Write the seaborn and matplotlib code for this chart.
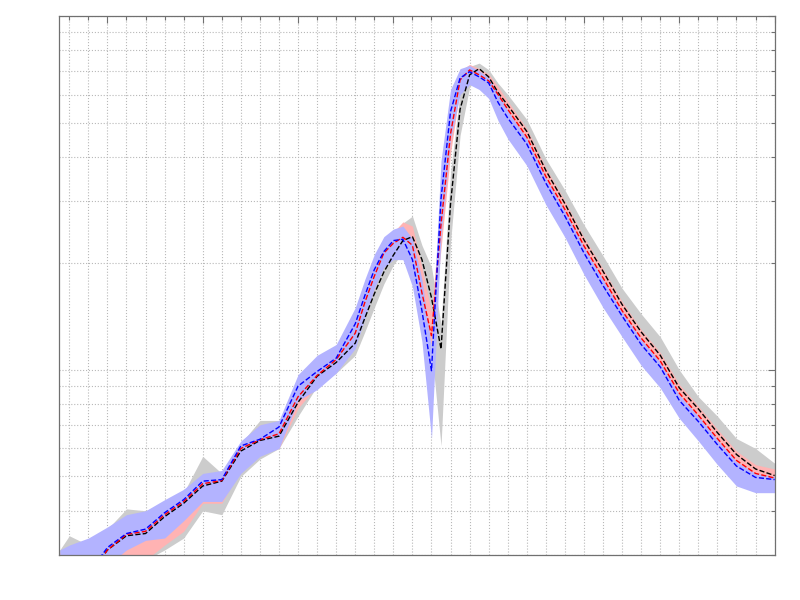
import numpy as np
import pandas as pd
import matplotlib
matplotlib.use("Agg")
import matplotlib.pyplot as plt
from matplotlib.ticker import MultipleLocator, LogLocator, NullFormatter
import seaborn as sns

# sample positions
x = [2.5, 3, 4, 5, 6, 7, 8, 9, 10, 11, 12, 13, 14, 15, 16, 17, 18,
     18.5, 19, 19.5, 20, 20.5, 21, 21.5, 22, 22.5, 23, 23.5, 24, 24.5, 25, 25.5, 26,
     27, 28, 29, 30, 31, 32, 33, 34, 35, 36, 37, 38, 39, 40]

# black series (gray band)
black_mid = [0.20, 0.22, 0.26, 0.31, 0.34, 0.345, 0.385, 0.42, 0.47, 0.485, 0.59, 0.632, 0.65, 0.81, 0.96, 1.05, 1.19,
             1.40, 1.64, 1.89, 2.11, 2.32, 2.38, 2.05, 1.60, 1.146, 2.95, 5.45, 6.82, 7.10, 6.73, 6.07, 5.60,
             4.72, 3.66, 2.95, 2.33, 1.90, 1.53, 1.28, 1.10, 0.89, 0.776, 0.665, 0.577, 0.525, 0.503]
black_lo = [0.15, 0.16, 0.19, 0.25, 0.28, 0.29, 0.31, 0.335, 0.40, 0.39, 0.50, 0.56, 0.60, 0.74, 0.90, 0.98, 1.10,
            1.28, 1.50, 1.75, 1.98, 2.15, 2.20, 1.70, 1.15, 0.61, 2.30, 4.60, 6.30, 6.80, 6.45, 5.80, 5.35,
            4.50, 3.50, 2.82, 2.22, 1.80, 1.46, 1.22, 1.05, 0.85, 0.74, 0.635, 0.55, 0.50, 0.48]
black_hi = [0.31, 0.34, 0.32, 0.355, 0.405, 0.40, 0.42, 0.45, 0.57, 0.51, 0.62, 0.72, 0.72, 0.86, 1.02, 1.10, 1.30,
            1.52, 1.78, 2.04, 2.30, 2.60, 2.72, 2.25, 1.95, 1.35, 3.60, 6.10, 7.20, 7.36, 7.05, 6.45, 6.00,
            5.10, 3.95, 3.22, 2.57, 2.10, 1.70, 1.44, 1.24, 1.00, 0.84, 0.74, 0.64, 0.60, 0.545]

# red series (pink band)
red_mid = [0.20, 0.22, 0.26, 0.31, 0.343, 0.35, 0.39, 0.425, 0.477, 0.487, 0.60, 0.635, 0.66, 0.84, 0.965, 1.07, 1.27,
           1.55, 1.84, 2.14, 2.28, 2.37, 2.25, 1.65, 1.25, 2.58, 4.65, 6.60, 7.04, 6.82, 6.56, 5.99, 5.45,
           4.55, 3.52, 2.84, 2.24, 1.82, 1.47, 1.23, 1.06, 0.86, 0.745, 0.64, 0.555, 0.51, 0.495]
red_lo = [0.15, 0.16, 0.19, 0.24, 0.27, 0.29, 0.32, 0.35, 0.42, 0.42, 0.525, 0.58, 0.60, 0.78, 0.90, 1.00, 1.18,
          1.42, 1.70, 2.00, 2.15, 2.25, 2.05, 1.45, 1.18, 2.20, 4.10, 6.20, 6.75, 6.55, 6.30, 5.75, 5.20,
          4.35, 3.35, 2.70, 2.13, 1.73, 1.40, 1.17, 1.01, 0.82, 0.71, 0.61, 0.53, 0.485, 0.47]
red_hi = [0.305, 0.31, 0.31, 0.34, 0.37, 0.39, 0.42, 0.45, 0.50, 0.51, 0.62, 0.70, 0.71, 0.90, 1.02, 1.14, 1.38,
          1.66, 1.98, 2.30, 2.45, 2.62, 2.55, 1.95, 1.45, 3.00, 5.20, 7.00, 7.30, 7.10, 6.85, 6.30, 5.75,
          4.80, 3.72, 3.00, 2.37, 1.93, 1.56, 1.30, 1.12, 0.91, 0.79, 0.68, 0.59, 0.54, 0.525]

# blue series (blue band)
blue_mid = [0.20, 0.22, 0.265, 0.315, 0.345, 0.355, 0.395, 0.43, 0.485, 0.49, 0.61, 0.637, 0.69, 0.90, 0.99, 1.08, 1.35,
            1.62, 1.92, 2.16, 2.32, 2.34, 2.05, 1.47, 0.995, 3.05, 5.37, 6.68, 6.96, 6.73, 6.47, 5.69, 5.15,
            4.35, 3.37, 2.72, 2.14, 1.73, 1.42, 1.18, 1.02, 0.82, 0.715, 0.615, 0.535, 0.497, 0.49]
blue_lo = [0.15, 0.16, 0.19, 0.28, 0.31, 0.33, 0.335, 0.375, 0.425, 0.425, 0.51, 0.57, 0.60, 0.82, 0.88, 0.98, 1.15,
           1.40, 1.70, 1.95, 2.05, 2.05, 1.72, 1.20, 0.64, 2.40, 4.50, 6.00, 6.40, 6.20, 5.85, 5.05, 4.50,
           3.78, 2.93, 2.37, 1.86, 1.50, 1.24, 1.03, 0.89, 0.73, 0.63, 0.54, 0.47, 0.45, 0.45]
blue_hi = [0.31, 0.32, 0.335, 0.36, 0.39, 0.40, 0.43, 0.46, 0.51, 0.52, 0.63, 0.70, 0.72, 0.97, 1.10, 1.18, 1.50,
           1.80, 2.12, 2.38, 2.50, 2.55, 2.35, 1.80, 1.15, 3.90, 6.20, 7.10, 7.25, 7.00, 6.70, 6.05, 5.40,
           4.50, 3.48, 2.81, 2.22, 1.80, 1.46, 1.22, 1.05, 0.85, 0.74, 0.635, 0.55, 0.51, 0.50]

sns.set_style("white")
fig = plt.figure(figsize=(8, 6), dpi=100)
ax = fig.add_axes([0.07375, 0.075, 0.895, 0.8983])

bands = [
    (black_lo, black_hi, (0.8, 0.8, 0.8)),
    (red_lo, red_hi, (1.0, 0.7, 0.7)),
    (blue_lo, blue_hi, (0.7, 0.7, 1.0)),
]
for lo, hi, c in bands:
    ax.fill_between(x, lo, hi, color=c, linewidth=0, zorder=2)

df = pd.DataFrame({"x": x, "black": black_mid, "red": red_mid, "blue": blue_mid})
for col, c in [("black", "k"), ("red", "r"), ("blue", "b")]:
    sns.lineplot(data=df, x="x", y=col, color=c, linestyle="--", linewidth=1.0, ax=ax, zorder=3)

ax.set_yscale("log")
ax.set_xlim(2.46, 40.02)
ax.set_ylim(0.3, 10)
ax.set_xlabel("")
ax.set_ylabel("")

ax.xaxis.set_major_locator(MultipleLocator(5))
ax.xaxis.set_minor_locator(MultipleLocator(1))
ax.yaxis.set_major_locator(LogLocator(base=10))
ax.yaxis.set_minor_locator(LogLocator(base=10, subs=np.arange(2, 10)))
ax.yaxis.set_minor_formatter(NullFormatter())

ax.tick_params(which="both", direction="in", top=True, right=True,
               labelbottom=False, labelleft=False, color="#707070", width=0.8)
ax.tick_params(which="major", length=5)
ax.tick_params(which="minor", length=3)

ax.grid(True, which="both", linestyle=":", color="#b8b8b8", linewidth=0.8)
ax.set_axisbelow(True)
for s in ax.spines.values():
    s.set_color("#707070")
    s.set_linewidth(0.9)

fig.savefig("out.png", dpi=100)
